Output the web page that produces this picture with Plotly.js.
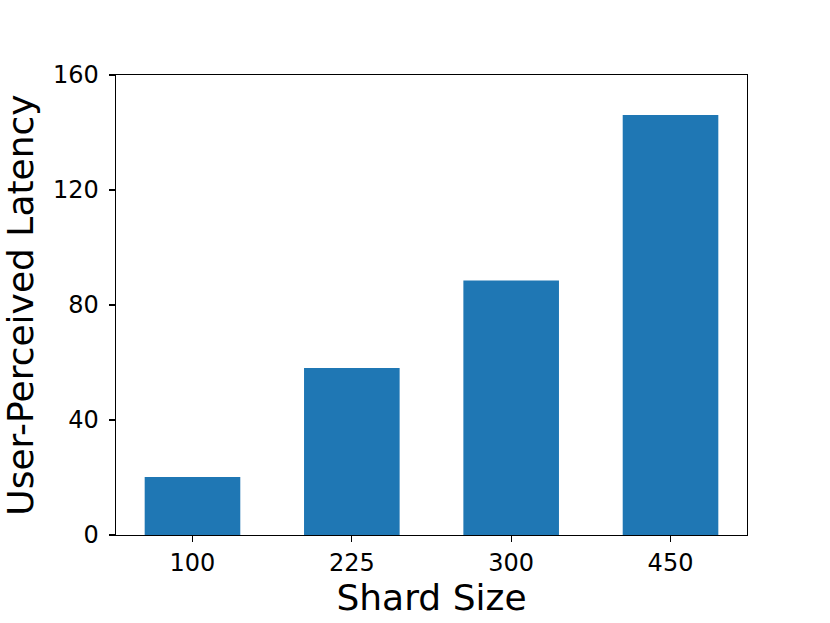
<!DOCTYPE html>
<html>
<head>
<meta charset="utf-8">
<script src="https://cdn.plot.ly/plotly-3.0.1.min.js"></script>
<style>
  html, body { margin: 0; padding: 0; background: #fff; }
  #chart { width: 830px; height: 623px; }
</style>
</head>
<body>
<div id="chart"></div>
<script>
// shard sizes and latency
const shardSizes = ['100', '225', '300', '450'];
const latency = [20.2, 58.1, 88.5, 146.1];
const yTicks = [0, 40, 80, 120, 160];

const trace = {
    x: shardSizes,
    y: latency,
    type: 'bar',
    width: 0.6,
    marker: { color: '#1f77b4' },
    hoverinfo: 'x+y'
};

const axisBase = {
    showline: true,
    linecolor: '#000',
    linewidth: 1.3,
    mirror: true,
    ticks: 'outside',
    ticklen: 6,
    tickwidth: 1.3,
    tickcolor: '#000',
    showgrid: false,
    zeroline: false,
    tickfont: { family: 'DejaVu Sans', size: 24, color: '#000' }
};

const layout = {
    width: 830,
    height: 623,
    showlegend: false,
    plot_bgcolor: '#fff',
    paper_bgcolor: '#fff',
    margin: { l: 116, r: 83, t: 75, b: 88 },
    xaxis: Object.assign({}, axisBase, {
        type: 'category',
        range: [-0.48, 3.48],
        title: { text: 'Shard Size', font: { family: 'DejaVu Sans', size: 36, color: '#000' }, standoff: 4 }
    }),
    yaxis: Object.assign({}, axisBase, {
        range: [0, 160],
        tickvals: yTicks,
        ticktext: yTicks.map(String),
        ticklabelstandoff: 5,
        title: { text: 'User-Perceived Latency', font: { family: 'DejaVu Sans', size: 36, color: '#000' }, standoff: 8 }
    })
};

Plotly.newPlot('chart', [trace], layout, { displayModeBar: false, staticPlot: true });
</script>
</body>
</html>
